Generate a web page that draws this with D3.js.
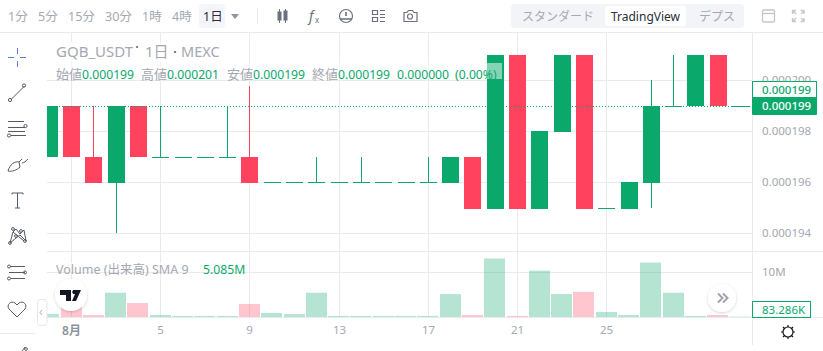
<!DOCTYPE html>
<html>
<head>
<meta charset="utf-8">
<script src="https://cdn.jsdelivr.net/npm/d3@7"></script>
<style>
  html, body { margin: 0; padding: 0; background: #fff; overflow: hidden; }
  svg { display: block; }
  text { font-family: "Noto Sans", "Noto Sans CJK JP", sans-serif; }
</style>
</head>
<body>
<div class="canvas"></div>
<script>
// Chart data
const dates = ['7/31','8/1','8/2','8/3','8/4','8/5','8/6','8/7','8/8','8/9','8/10','8/11','8/12','8/13','8/14','8/15',
    '8/16','8/17','8/18','8/19','8/20','8/21','8/22','8/23','8/24','8/25','8/26','8/27','8/28','8/29','8/30','8/31'];
const opens = [197,199,197,196,199,197,197,197,197,197,196,196,196,196,196,196,196,196,196,197,195,201,195,198,201,195,195,196,199,199,201,199];
const closes = [199,197,196,199,197,197,197,197,197,196,196,196,196,196,196,196,196,196,197,195,201,195,198,201,195,195,196,199,199,201,199,199];
const highs = [199,199,199,199,199,199,197,197,199,199.8,196,196,197,196,197,196,196,197,197,197,201,201,198,201,201,195,196,200,201,201,201,199];
const lows = [197,197,196,194,197,197,197,197,197,196,196,196,196,196,196,196,196,196,196,195,195,195,195,198,195,195,195,195,199,199,199,199];
const volumes = [0.67,2.7,0.45,5.4,3.1,0.45,0.25,0.22,0.22,2.9,0.9,0.65,5.4,0.25,0.25,0.22,0.22,0.25,5.1,0.45,13,0.25,10.3,5.1,5.6,1.1,0.45,12.1,5.4,0.25,0.45,0.083];
const priceTicks = [200, 198, 196, 194];
const volumeTicks = [10];
const dateTicks = ['8/1','8/5','8/9','8/13','8/17','8/21','8/25'];
const intervals = ['1分','5分','15分','30分','1時','4時'];
const intervalX = [8, 38, 68, 105, 142, 172];
const legendItems = [['始値','0.000199',56],['高値','0.000201',141],['安値','0.000199',227],['終値','0.000199',312]];

const green = '#0aa96b', red = '#ff435f', gridColor = '#e9eaed', grayText = '#a4a8b2', iconColor = '#6a707d';

// Chart dimensions
const dims = {width: 823, height: 351, left: 47, right: 752, top: 33, split: 251, bottom: 317};

const svg = d3.select('.canvas').append('svg')
    .attr('width', dims.width)
    .attr('height', dims.height);

// Scales
const x = d3.scalePoint().domain(dates).range([48.75, 740.05]);
const y = d3.scaleLinear().domain([194, 200]).range([233, 80]);
const yVol = d3.scaleLinear().domain([0, 10]).range([317, 272]);

svg.append('clipPath').attr('id', 'plot')
    .append('rect')
    .attr('x', dims.left).attr('y', dims.top)
    .attr('width', dims.right - dims.left).attr('height', dims.bottom - dims.top);

// Grid lines, built from the axes
const styleGrid = g => {
    g.select('.domain').remove();
    g.selectAll('line').attr('stroke', gridColor);
    g.selectAll('text').remove();
};

// snapping the date ticks to whole pixels so the lines stay sharp
const snapTicks = g => g.selectAll('.tick').attr('transform', d => `translate(${Math.round(x(d)) + 0.5}, 0)`);

svg.append('g')
    .attr('transform', `translate(0, ${dims.bottom})`)
    .call(d3.axisBottom(x).tickValues(dateTicks).tickSize(-(dims.bottom - dims.top)))
    .call(styleGrid)
    .call(snapTicks);

svg.append('g')
    .attr('transform', `translate(${dims.left}, 0)`)
    .call(d3.axisRight(y).tickValues(priceTicks).tickSize(dims.right - dims.left))
    .call(styleGrid);

svg.append('g')
    .attr('transform', `translate(${dims.left}, 0)`)
    .call(d3.axisRight(yVol).tickValues(volumeTicks).tickSize(dims.right - dims.left))
    .call(styleGrid);

// Pane borders
const hLine = (x1, x2, yy) => svg.append('line').attr('x1', x1).attr('x2', x2).attr('y1', yy).attr('y2', yy).attr('stroke', gridColor);
const vLine = (xx, y1, y2) => svg.append('line').attr('x1', xx).attr('x2', xx).attr('y1', y1).attr('y2', y2).attr('stroke', gridColor);
hLine(0, dims.width, 32.5);
hLine(dims.left, dims.width, dims.split + 0.5);
hLine(dims.left, dims.width, dims.bottom + 0.5);
vLine(dims.right + 0.5, 33, 345);
hLine(0, 35, 333.5);

const plot = svg.append('g').attr('clip-path', 'url(#plot)');
const isUp = i => closes[i] >= opens[i];

// Volume bars
plot.append('g').selectAll('rect')
    .data(volumes)
    .enter().append('rect')
    .attr('x', (d, i) => Math.round(x(dates[i]) - 10.5))
    .attr('width', 21)
    .attr('y', d => yVol(d))
    .attr('height', d => yVol(0) - yVol(d))
    .attr('fill', (d, i) => isUp(i) ? green : red)
    .attr('fill-opacity', 0.3);

// Legend backdrops sit behind the candles, they only hide the grid
plot.append('rect').attr('x', 52).attr('y', 42).attr('width', 170).attr('height', 20).attr('fill', '#fff').attr('fill-opacity', 0.9);
plot.append('rect').attr('x', 52).attr('y', 263).attr('width', 194).attr('height', 9).attr('fill', '#fff').attr('fill-opacity', 0.9);

// Candle wicks
plot.append('g').selectAll('line')
    .data(dates)
    .enter().append('line')
    .attr('x1', d => Math.round(x(d)) + 0.5)
    .attr('x2', d => Math.round(x(d)) + 0.5)
    .attr('y1', (d, i) => Math.ceil(y(highs[i])))
    .attr('y2', (d, i) => Math.ceil(y(lows[i])))
    .attr('stroke', (d, i) => isUp(i) ? green : red);

// Candle bodies, flat ones still get one pixel
const bodyTop = i => Math.ceil(y(Math.max(opens[i], closes[i])));
const bodyBottom = i => Math.ceil(y(Math.min(opens[i], closes[i])) + 0.5);
plot.append('g').selectAll('rect')
    .data(dates)
    .enter().append('rect')
    .attr('x', d => Math.round(x(d)) - 8)
    .attr('width', 17)
    .attr('y', (d, i) => bodyTop(i))
    .attr('height', (d, i) => opens[i] === closes[i] ? 1 : bodyBottom(i) - bodyTop(i))
    .attr('fill', (d, i) => isUp(i) ? green : red);

// Last price line
const lastClose = closes[closes.length - 1];
plot.append('line')
    .attr('x1', dims.left).attr('x2', dims.right)
    .attr('y1', Math.ceil(y(lastClose)) + 0.5).attr('y2', Math.ceil(y(lastClose)) + 0.5)
    .attr('stroke', green)
    .attr('stroke-dasharray', '1 2');

// Price axis labels
const priceAxis = svg.append('g')
    .attr('transform', `translate(${dims.right}, 0)`)
    .call(d3.axisRight(y).tickValues(priceTicks).tickSize(0).tickPadding(10).tickFormat(d => '0.000' + d));
priceAxis.select('.domain').remove();
priceAxis.selectAll('text').attr('fill', grayText).attr('font-size', 11.5).style('font-family', '"Noto Sans"');

const volAxis = svg.append('g')
    .attr('transform', `translate(${dims.right}, 0)`)
    .call(d3.axisRight(yVol).tickValues(volumeTicks).tickSize(0).tickPadding(10).tickFormat(d => d + 'M'));
volAxis.select('.domain').remove();
volAxis.selectAll('text').attr('fill', grayText).attr('font-size', 11.5).style('font-family', '"Noto Sans"');

// Time axis labels
const timeAxis = svg.append('g')
    .attr('transform', `translate(0, ${dims.bottom})`)
    .call(d3.axisBottom(x).tickValues(dateTicks).tickSize(0).tickPadding(9)
        .tickFormat(d => d === '8/1' ? '8月' : d.split('/')[1]));
timeAxis.select('.domain').remove();
timeAxis.call(snapTicks);
timeAxis.selectAll('text').attr('fill', grayText).attr('font-size', 11.5).style('font-family', '"Noto Sans", "Noto Sans CJK JP"');
timeAxis.selectAll('text').filter(d => d === '8/1').attr('font-weight', 600).attr('font-size', 12).attr('fill', '#8e929d');

// Helper for plain labels
const label = (txt, xx, yy, color, size, anchor) => svg.append('text')
    .attr('x', xx).attr('y', yy)
    .attr('fill', color)
    .attr('font-size', size)
    .attr('text-anchor', anchor || 'start')
    .text(txt);

// Legend
label('GQB_USDT', 56, 57, grayText, 15);
label('·', 135, 52, '#555a66', 15);
label('1日', 145, 57, grayText, 15);
label('·', 173, 57, '#555a66', 15);
label('MEXC', 181, 57, grayText, 14.5);
svg.append('rect').attr('x', 52).attr('y', 63).attr('width', 450).attr('height', 16).attr('fill', '#fff').attr('fill-opacity', 0.5);
legendItems.forEach(d => {
    label(d[0], d[2], 79, grayText, 13);
    label(d[1], d[2] + 26, 79, green, 12.2);
});
label('0.000000', 397, 79, green, 12.2);
label('(0.00%)', 455, 79, green, 12.2);
label('Volume (出来高) SMA 9', 56, 273.5, grayText, 12.5);
label('5.085M', 203, 273.5, green, 12.2);

// Price and volume tags on the axis
svg.append('rect').attr('x', 752.5).attr('y', 81.5).attr('width', 64).attr('height', 16).attr('fill', '#fff').attr('stroke', green);
label('0.000199', 762, 94, green, 11.5).attr('font-weight', 500);
svg.append('rect').attr('x', 752).attr('y', 97).attr('width', 65).attr('height', 18).attr('rx', 1).attr('fill', green);
label('0.000199', 762, 110, '#fff', 11.5).attr('font-weight', 500);
svg.append('rect').attr('x', 752.5).attr('y', 301.5).attr('width', 58).attr('height', 16).attr('fill', '#fff').attr('stroke', green);
label('83.286K', 762, 314, green, 11.5);

// Top toolbar
intervals.forEach((d, i) => label(d, intervalX[i], 21, grayText, 12.5));
svg.append('rect').attr('x', 199).attr('y', 4).attr('width', 26).attr('height', 24).attr('rx', 4).attr('fill', '#f4f5f8');
label('1日', 203, 21, '#2a2e39', 12.5);
svg.append('path').attr('d', 'M231 14h8l-4 5z').attr('fill', '#8f94a0');
svg.append('line').attr('x1', 257.5).attr('x2', 257.5).attr('y1', 8).attr('y2', 24).attr('stroke', gridColor);

// Chart type icon
const icons = svg.append('g').attr('fill', 'none').attr('stroke', iconColor);
icons.append('path').attr('d', 'M279.5 9v14M285.5 9v14').attr('stroke-width', 1);
icons.append('rect').attr('x', 278).attr('y', 12).attr('width', 3).attr('height', 8).attr('fill', iconColor);
icons.append('rect').attr('x', 284).attr('y', 11).attr('width', 3).attr('height', 9).attr('fill', iconColor);
label('f', 309, 21, iconColor, 14).attr('font-style', 'italic');
label('x', 315, 23, iconColor, 8);
icons.append('circle').attr('cx', 346).attr('cy', 16).attr('r', 6.5).attr('stroke-width', 1.2);
icons.append('path').attr('d', 'M346 16v-4M340 19h12').attr('stroke-width', 1.6);
icons.append('path').attr('d', 'M372.5 10.5h5v4h-5zM372.5 17.5h5v4h-5zM380 10.5h5M380 14.5h5M380 17.5h5M380 21.5h5').attr('stroke-width', 1.2);
icons.append('path').attr('d', 'M404 12.5h3l1.5-2h4l1.5 2h3v9h-13z').attr('stroke-width', 1.2);
icons.append('circle').attr('cx', 410).attr('cy', 16.5).attr('r', 2.5).attr('stroke-width', 1.2);

// Chart mode buttons
svg.append('rect').attr('x', 511).attr('y', 4).attr('width', 233).attr('height', 24).attr('rx', 4).attr('fill', '#f3f4f8');
svg.append('rect').attr('x', 605).attr('y', 6).attr('width', 81).attr('height', 20).attr('rx', 3).attr('fill', '#fff');
label('スタンダード', 522, 21, grayText, 12).style('font-family', '"Noto Sans CJK JP"');
label('TradingView', 645.5, 21, '#2a2e39', 12, 'middle');
label('デプス', 699, 21, grayText, 12).style('font-family', '"Noto Sans CJK JP"');

// Window and fullscreen icons
const winIcons = svg.append('g').attr('fill', 'none').attr('stroke', '#c3c6ce').attr('stroke-width', 1.3);
winIcons.append('rect').attr('x', 762.5).attr('y', 10).attr('width', 12).attr('height', 12).attr('rx', 1);
winIcons.append('path').attr('d', 'M762.5 13.5h12');
winIcons.append('path').attr('d', 'M792.5 14v-3.5h3.5M800.5 10.5h3.5v3.5M792.5 18v3.5h3.5M800.5 21.5h3.5v-3.5M793 11l3 3M804 11l-3 3M793 21l3-3M804 21l-3-3');

// Left drawing tools
const tools = svg.append('g').attr('fill', 'none').attr('stroke', '#555a66').attr('stroke-width', 1);
tools.append('path').attr('d', 'M8 57.5h6M20 57.5h6M17.5 48v6M17.5 61v6').attr('stroke', '#5b7fd8');
tools.append('path').attr('d', 'M11.5 99l13-13');
tools.append('circle').attr('cx', 10).attr('cy', 100).attr('r', 1.6);
tools.append('circle').attr('cx', 24).attr('cy', 85.5).attr('r', 1.6);
tools.append('path').attr('d', 'M8 121.5h16M8 127.5h17M8 131.5h17M11 135.5h15');
tools.append('circle').attr('cx', 25.5).attr('cy', 126).attr('r', 1.6);
tools.append('circle').attr('cx', 9).attr('cy', 135.5).attr('r', 1.6);
tools.append('path').attr('d', 'M8 171c2-7 7-10 11-9l1 5c-3 3-8 5-12 4zM19 162l3-3M22 163c2 0 4-2 6-4');
tools.append('path').attr('d', 'M12 194.5v-1.5h11v1.5M17.5 193v15M15 208h5');
tools.append('path').attr('d', 'M10 243l3-11 3-3 4 5 4-4 2 11-6-6-4 3zM13 232l11 9');
[[10, 243], [13, 229], [21, 231], [25, 241], [16, 236]].forEach(p => tools.append('circle').attr('cx', p[0]).attr('cy', p[1]).attr('r', 1.4));
tools.append('path').attr('d', 'M10 266.5h15M9 272.5h16M11 278.5h14');
[[9, 266.5], [25, 272.5], [9, 278.5]].forEach(p => tools.append('circle').attr('cx', p[0]).attr('cy', p[1]).attr('r', 1.5));
tools.append('path').attr('d', 'M17 317l-8-8c-3-4 2-9 6-6l2 2 2-2c4-3 9 2 6 6z');
tools.append('path').attr('d', 'M22 351l3-4');
tools.append('circle').attr('cx', 26).attr('cy', 349).attr('r', 1.4);

// Collapse tab for the tools
svg.append('rect').attr('x', 37.5).attr('y', 299.5).attr('width', 9.5).attr('height', 26).attr('rx', 3).attr('fill', '#fff').attr('stroke', '#e6e7ea');
svg.append('path').attr('d', 'M42 310l-2 2.5 2 2.5').attr('fill', 'none').attr('stroke', '#a8abb4');

// TradingView badge
const softShadow = svg.append('filter').attr('id', 'soft').attr('x', '-30%').attr('y', '-30%').attr('width', '160%').attr('height', '160%');
softShadow.append('feDropShadow').attr('dx', 0).attr('dy', 1).attr('stdDeviation', 1.5).attr('flood-color', '#000').attr('flood-opacity', 0.18);
svg.append('circle').attr('cx', 71).attr('cy', 295).attr('r', 16).attr('fill', '#fff').attr('filter', 'url(#soft)');
svg.append('path').attr('d', 'M60 290h11v11h-5v-6h-6zM73 290h8l-5 11h-4l3-7h-2z').attr('fill', '#131722');
svg.append('circle').attr('cx', 74).attr('cy', 292).attr('r', 1.8).attr('fill', '#131722');

// Scroll to latest button
svg.append('circle').attr('cx', 722).attr('cy', 298).attr('r', 14).attr('fill', '#fff').attr('filter', 'url(#soft)');
svg.append('path').attr('d', 'M718 293.5l4.5 4.5-4.5 4.5M723 293.5l4.5 4.5-4.5 4.5').attr('fill', 'none').attr('stroke', '#a0a4ae').attr('stroke-width', 2);

// Settings sun icon
const sun = svg.append('g').attr('fill', 'none').attr('stroke', '#131722').attr('stroke-width', 1.2);
sun.append('circle').attr('cx', 788).attr('cy', 332).attr('r', 5);
sun.append('path').attr('d', 'M788 325v2M788 337v2M781 332h2M793 332h2M783 327l1.5 1.5M793 327l-1.5 1.5M783 337l1.5-1.5M793 337l-1.5-1.5');
</script>
</body>
</html>
